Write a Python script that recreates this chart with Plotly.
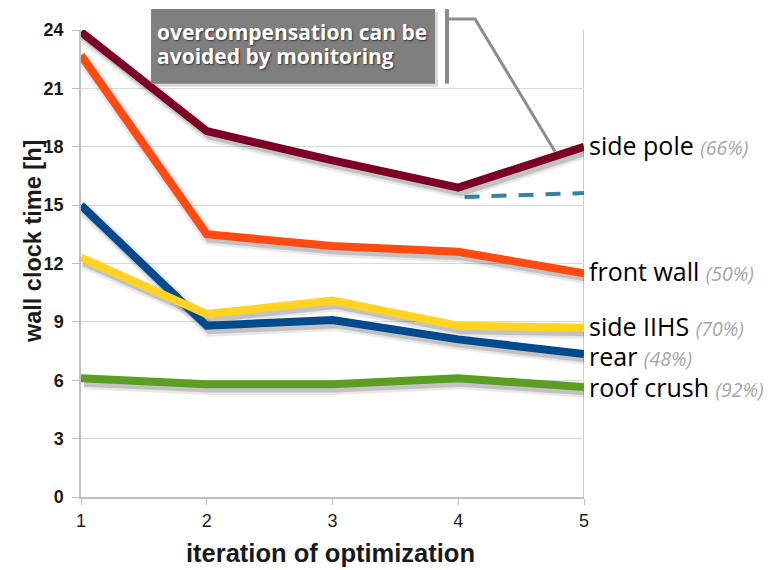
import plotly.graph_objects as go

iterations = [1, 2, 3, 4, 5]
series_names = ["side pole", "front wall", "side IIHS", "rear", "roof crush"]
series_pct = ["66%", "50%", "70%", "48%", "92%"]
side_pole = [23.9, 18.8, 17.3, 15.9, 18.0]
front_wall = [22.7, 13.5, 12.9, 12.6, 11.5]
side_iihs = [12.3, 9.4, 10.1, 8.8, 8.7]
rear = [15.0, 8.8, 9.1, 8.1, 7.35]
roof_crush = [6.1, 5.8, 5.8, 6.1, 5.65]
series_colors = ["#7B0024", "#FF4A12", "#FFD320", "#004A8D", "#5A9F24"]
label_y = [18.1, 11.6, 8.8, 7.27, 5.63]
monitor_x = [4.05, 5.0]
monitor_y = [15.42, 15.62]
y_ticks = [0, 3, 6, 9, 12, 15, 18, 21, 24]
x_ticks = [1, 2, 3, 4, 5]
callout_lines = ["overcompensation can be", "avoided by monitoring"]

all_series = [side_pole, front_wall, side_iihs, rear, roof_crush]
order = [4, 3, 2, 1, 0]  # back to front

fig = go.Figure()

# soft drop shadows (drawn on slightly shifted overlay axes)
for i in order:
    fig.add_trace(go.Scatter(x=iterations, y=all_series[i], mode="lines",
                             line=dict(color="rgba(0,0,0,0.09)", width=14),
                             xaxis="x2", yaxis="y2", hoverinfo="skip", showlegend=False))
    fig.add_trace(go.Scatter(x=iterations, y=all_series[i], mode="lines",
                             line=dict(color="rgba(0,0,0,0.16)", width=9),
                             xaxis="x2", yaxis="y2", hoverinfo="skip", showlegend=False))

for i in order:
    fig.add_trace(go.Scatter(x=iterations, y=all_series[i], mode="lines",
                             line=dict(color=series_colors[i], width=8),
                             name=series_names[i], xaxis="x3", yaxis="y3",
                             showlegend=False))

fig.add_trace(go.Scatter(x=monitor_x, y=monitor_y, mode="lines",
                         line=dict(color="#31849B", width=4, dash="15px,12px"),
                         xaxis="x3", yaxis="y3", showlegend=False))

px_x = 503 / 4.0
px_y = 469 / 24.0
dx = 3 / px_x
dy = 4 / px_y

fig.update_layout(
    width=766, height=562,
    margin=dict(l=73, r=190, t=20, b=73),
    paper_bgcolor="white", plot_bgcolor="white",
    xaxis=dict(range=[1, 5], tickvals=x_ticks, showgrid=False, zeroline=False,
               showline=True, linecolor="#bfbfbf", linewidth=1.5,
               ticks="outside", ticklen=6, tickcolor="#bfbfbf",
               ticklabelstandoff=1,
               tickfont=dict(family="Liberation Sans, Arial", size=18, color="#1a1a1a")),
    yaxis=dict(range=[0, 24], tickvals=y_ticks, showgrid=True, gridcolor="#d9d9d9",
               gridwidth=1.2, zeroline=False, showline=True, linecolor="#bfbfbf",
               linewidth=1.5, ticks="outside", ticklen=7, tickcolor="#bfbfbf",
               ticklabelstandoff=5,
               tickfont=dict(family="Liberation Sans, Arial", size=18, color="#1a1a1a",
                             weight="bold")),
    xaxis2=dict(range=[1 - dx, 5 - dx], overlaying="x", visible=False),
    yaxis2=dict(range=[dy, 24 + dy], overlaying="y", visible=False),
    xaxis3=dict(range=[1, 5], overlaying="x", visible=False),
    yaxis3=dict(range=[0, 24], overlaying="y", visible=False),
)

# right border at x=5
fig.add_shape(type="line", xref="x", yref="paper", x0=5, x1=5, y0=0, y1=1,
              line=dict(color="#bfbfbf", width=1.5), layer="below")

# callout box with shadow
fig.add_shape(type="rect", xref="paper", yref="paper",
              x0=0.1392 + 3 / 503, x1=0.7038 + 3 / 503, y0=0.8849 - 3 / 469, y1=1.0448 - 3 / 469,
              fillcolor="rgba(0,0,0,0.15)", line=dict(width=0))
fig.add_shape(type="rect", xref="paper", yref="paper",
              x0=0.1392, x1=0.7038, y0=0.8849, y1=1.0448,
              fillcolor="#7f7f7f", line=dict(width=0))
for k, txt in enumerate(callout_lines):
    fig.add_annotation(
        xref="paper", yref="paper", x=(155 - 81) / 503,
        y=(497 - (30.5 + 24 * k)) / 469,
        xanchor="left", yanchor="middle", showarrow=False, text=txt,
        font=dict(family="Open Sans", size=21, color="white", weight="bold",
                  shadow="1px 1px 2px rgba(0,0,0,0.6)"))

# bracket and pointer
fig.add_shape(type="line", xref="paper", yref="paper", x0=0.7276, x1=0.7276,
              y0=0.8849, y1=1.0448, line=dict(color="#8c8c8c", width=4))
fig.add_shape(type="path", xref="paper", yref="paper",
              path="M 0.7276 1.0235 L 0.7833 1.0235 L 0.9423 0.7399",
              line=dict(color="#8c8c8c", width=3))

# series labels
for i in range(5):
    fig.add_annotation(
        xref="x3", yref="y3", x=5, y=label_y[i], xanchor="left", yanchor="middle",
        xshift=3, showarrow=False,
        text=series_names[i] + " <i><span style='font-size:19.5px;color:#a6a6a6'>("
             + series_pct[i] + ")</span></i>",
        font=dict(family="Open Sans", size=25, color="black"))

# axis titles
fig.add_annotation(
    xref="paper", yref="paper", x=(33 - 81) / 503, y=(497 - 241) / 469,
    xanchor="center", yanchor="middle", showarrow=False, textangle=-90,
    text="wall clock time [h]",
    font=dict(family="Liberation Sans, Arial", size=23.5, color="#1a1a1a", weight="bold"))
fig.add_annotation(
    xref="paper", yref="paper", x=(330 - 81) / 503, y=(497 - 553) / 469,
    xanchor="center", yanchor="middle", showarrow=False,
    text="iteration of optimization",
    font=dict(family="Liberation Sans, Arial", size=25.5, color="#1a1a1a", weight="bold"))

fig.write_html("out.html")
